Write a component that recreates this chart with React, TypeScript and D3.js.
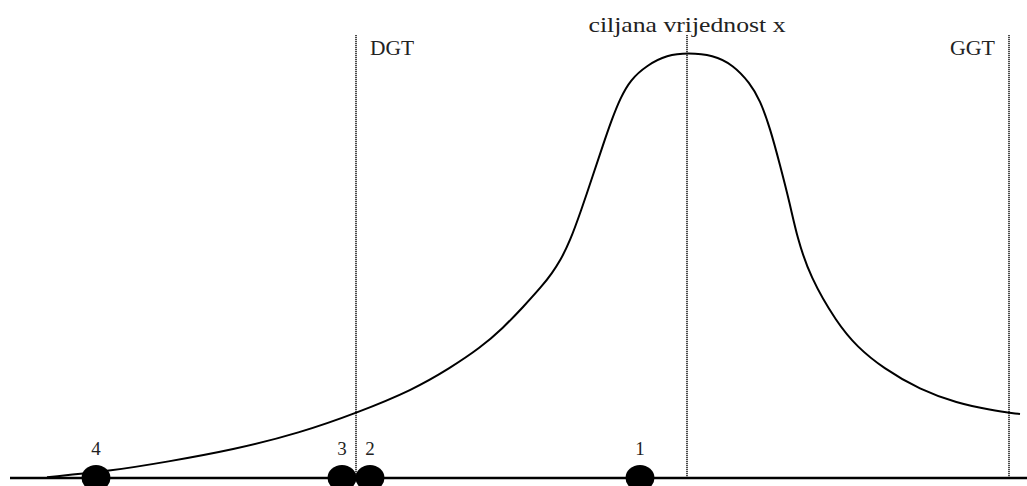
import React from "react";
import * as d3 from "d3";

const W = 1027;
const H = 486;

// Curve: x in abstract units (0..100), y as % of peak height
const curveX = [3.7, 10, 15.7, 22.3, 29, 34.7, 40.3, 44, 47, 49.3, 51.3, 53.3, 54.2, 55, 56, 57.1, 58.3, 59.3, 60.2, 61, 62, 63.7, 65.7, 67.8, 70.3, 72.3, 74, 75, 76, 77, 78, 78.7, 80, 82.7, 84.7, 87.3, 91, 94.7, 98, 101];
const curveY = [0.2, 1.6, 3.8, 6.6, 10.6, 15.3, 20.7, 25.8, 30.5, 35.2, 40.1, 45.3, 48.1, 50.9, 55.6, 62.7, 71.1, 78.2, 84.3, 89.0, 93.4, 96.9, 99.3, 99.8, 99.3, 97, 92.7, 88.7, 82.2, 73.5, 64.3, 56.6, 47.2, 36.4, 30.8, 25.8, 20.7, 17.6, 16, 15];

// Vertical reference lines
const refNames = ["DGT", "ciljana vrijednost x", "GGT"];
const refX = [34.6, 67.7, 99.9];

// Points on the axis
const pointLabels = ["4", "3", "2", "1"];
const pointX = [8.6, 33.2, 36.0, 63.0];

const axisStart = 0;
const axisEnd = 101.7;
const refTop = 104;

export default function App() {
  const x = d3.scaleLinear().domain([0, 100]).range([10, 1010]);
  const y = d3.scaleLinear().domain([0, 100]).range([478, 52]);

  const pts: [number, number][] = curveX.map((v, i) => [v, curveY[i]]);
  const line = d3
    .line<[number, number]>()
    .x((d) => x(d[0]))
    .y((d) => y(d[1]))
    .curve(d3.curveBasis);

  const font = "'Liberation Serif', 'Times New Roman', serif";

  return (
    <svg
      width={W}
      height={H}
      style={{ position: "absolute", left: 0, top: 0, background: "#fff" }}
    >
      <rect x={0} y={0} width={W} height={H} fill="#fff" />
      {/* vertical dotted lines */}
      {refX.map((v, i) => (
        <line
          key={"r" + i}
          x1={x(v)}
          x2={x(v)}
          y1={y(refTop)}
          y2={y(0)}
          stroke="#111"
          strokeWidth={1.5}
          strokeDasharray="1.2,0.8"
        />
      ))}
      {/* baseline */}
      <line
        x1={x(axisStart)}
        x2={x(axisEnd)}
        y1={y(0)}
        y2={y(0)}
        stroke="#000"
        strokeWidth={2.6}
      />
      {/* curve */}
      <path d={line(pts) || ""} fill="none" stroke="#000" strokeWidth={2} />
      {/* points */}
      {pointX.map((v, i) => (
        <ellipse key={"p" + i} cx={x(v)} cy={y(0)} rx={14.5} ry={13} fill="#000" />
      ))}
      {pointX.map((v, i) => (
        <text
          key={"l" + i}
          x={x(v)}
          y={455}
          textAnchor="middle"
          fontFamily={font}
          fontSize={19}
          fill="#222"
        >
          {pointLabels[i]}
        </text>
      ))}
      {/* ref labels */}
      <text x={x(refX[0]) + 14} y={55} fontFamily={font} fontSize={22} fill="#222" textLength={44} lengthAdjust="spacingAndGlyphs">
        {refNames[0]}
      </text>
      <text x={x(refX[1])} y={32} textAnchor="middle" fontFamily={font} fontSize={22} fill="#222" textLength={197} lengthAdjust="spacingAndGlyphs">
        {refNames[1]}
      </text>
      <text x={x(refX[2]) - 14} y={55} textAnchor="end" fontFamily={font} fontSize={22} fill="#222" textLength={45} lengthAdjust="spacingAndGlyphs">
        {refNames[2]}
      </text>
    </svg>
  );
}
